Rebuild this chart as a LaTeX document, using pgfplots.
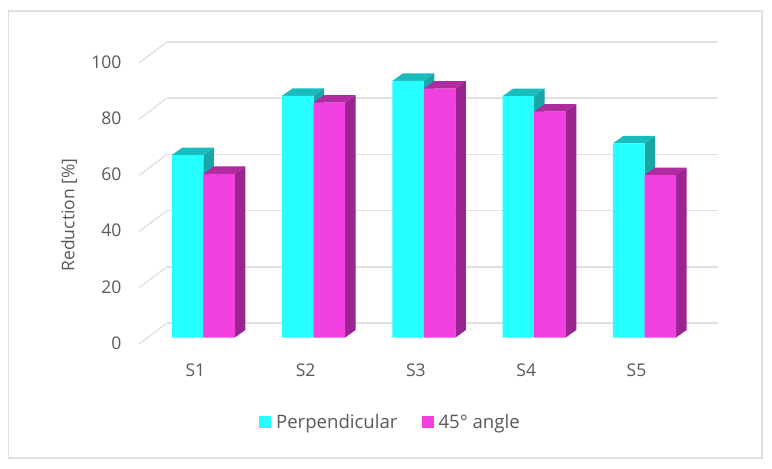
\documentclass[border=0pt]{standalone}
\usepackage{pgfplots}
\pgfplotsset{compat=1.18}
\usepackage{fontspec}
\setmainfont{Open Sans}
\definecolor{cy}{HTML}{26FFFF}
\definecolor{cytop}{HTML}{1ABDBD}
\definecolor{cyside}{HTML}{18A6A6}
\definecolor{mg}{HTML}{F23FDF}
\definecolor{mgtop}{HTML}{B02AA0}
\definecolor{mgside}{HTML}{9A2590}
\definecolor{gl}{HTML}{E0E0E0}
\definecolor{txt}{HTML}{595959}
\begin{document}
\begin{tikzpicture}
\path[use as bounding box] (0,0) rectangle (772pt,469pt);
\fill[white] (0,0) rectangle (772pt,469pt);
\draw[color=gl,line width=1.5pt] (8.5pt,11pt) rectangle (762pt,458pt);
\begin{axis}[
  at={(139pt,125pt)}, anchor=south west,
  scale only axis, width=579pt, height=302pt,
  xmin=-0.583, xmax=4.666, ymin=-2.31, ymax=105.16,
  clip=false,
  axis line style={draw=none},
  major tick length=0pt,
  tick style={draw=none},
  xtick={0,1,2,3,4},
  xticklabels={S1,S2,S3,S4,S5},
  ytick={0,20,40,60,80,100},
  /pgf/number format/assume math mode=true,
  tick label style={font=\fontsize{17.5}{20}\selectfont, text=txt},
  yticklabel style={anchor=east, yshift=-5.5pt, xshift=-14pt},
  xticklabel style={anchor=center, xshift=-8pt, yshift=-26pt},
  ylabel={Reduction [\%]},
  every axis y label/.style={at={(rel axis cs:-0.1209,0.4272)},rotate=90,anchor=center,font=\fontsize{17.5}{20}\selectfont,text=txt},
  unbounded coords=jump,
  legend columns=2,
  legend style={at={(rel axis cs:0.207,-0.258)},anchor=west,draw=none,fill=none,inner sep=0pt,
    font=\fontsize{18.6}{20}\selectfont,text=txt,
    /tikz/every even column/.append style={column sep=22pt}},
  legend image code/.code={\path[#1] (0pt,-6pt) rectangle (12pt,6pt);\path (15pt,0pt);},
]
% gridlines on the side wall and the back wall
\addplot[color=gl,line width=1.3pt,forget plot] coordinates {
 (-0.583,-2.31) (-0.329,5.16) (nan,nan)
 (-0.583,17.69) (-0.329,25.16) (nan,nan)
 (-0.583,37.69) (-0.329,45.16) (nan,nan)
 (-0.583,57.69) (-0.329,65.16) (nan,nan)
 (-0.583,77.69) (-0.329,85.16) (nan,nan)
 (-0.583,97.69) (-0.329,105.16)
};
\addplot[color=gl,line width=1.7pt,forget plot] coordinates {
 (-0.329,5.16) (4.666,5.16) (nan,nan)
 (-0.329,25.16) (4.666,25.16) (nan,nan)
 (-0.329,45.16) (4.666,45.16) (nan,nan)
 (-0.329,65.16) (4.666,65.16) (nan,nan)
 (-0.329,85.16) (4.666,85.16) (nan,nan)
 (-0.329,105.16) (4.666,105.16)
};
% Perpendicular: tops and sides
\addplot[fill=cytop,draw=none,forget plot] coordinates {(-0.286,64.9)(-0.191,67.57)(0.095,67.57)(0,64.9)} --cycle;
\addplot[fill=cytop,draw=none,forget plot] coordinates {(0.714,86.0)(0.809,88.67)(1.095,88.67)(1,86.0)} --cycle;
\addplot[fill=cytop,draw=none,forget plot] coordinates {(1.714,91.3)(1.809,93.97)(2.095,93.97)(2,91.3)} --cycle;
\addplot[fill=cytop,draw=none,forget plot] coordinates {(2.714,85.9)(2.809,88.57)(3.095,88.57)(3,85.9)} --cycle;
\addplot[fill=cytop,draw=none,forget plot] coordinates {(3.714,69.1)(3.809,71.77)(4.095,71.77)(4,69.1)} --cycle;
\addplot[fill=cyside,draw=none,forget plot] coordinates {(0,0)(0.095,2.67)(0.095,67.57)(0,64.9)} --cycle;
\addplot[fill=cyside,draw=none,forget plot] coordinates {(1,0)(1.095,2.67)(1.095,88.67)(1,86.0)} --cycle;
\addplot[fill=cyside,draw=none,forget plot] coordinates {(2,0)(2.095,2.67)(2.095,93.97)(2,91.3)} --cycle;
\addplot[fill=cyside,draw=none,forget plot] coordinates {(3,0)(3.095,2.67)(3.095,88.57)(3,85.9)} --cycle;
\addplot[fill=cyside,draw=none,forget plot] coordinates {(4,0)(4.095,2.67)(4.095,71.77)(4,69.1)} --cycle;
% Perpendicular: fronts
\addplot[ybar,bar width=0.286,bar shift=-0.143,fill=cy,draw=none] coordinates {(0,64.9)(1,86.0)(2,91.3)(3,85.9)(4,69.1)};
\addlegendentry{Perpendicular}
% 45 degree: tops and sides
\addplot[fill=mgtop,draw=none,forget plot] coordinates {(0,58.2)(0.095,60.87)(0.381,60.87)(0.286,58.2)} --cycle;
\addplot[fill=mgtop,draw=none,forget plot] coordinates {(1,83.6)(1.095,86.27)(1.381,86.27)(1.286,83.6)} --cycle;
\addplot[fill=mgtop,draw=none,forget plot] coordinates {(2,88.6)(2.095,91.27)(2.381,91.27)(2.286,88.6)} --cycle;
\addplot[fill=mgtop,draw=none,forget plot] coordinates {(3,80.4)(3.095,83.07)(3.381,83.07)(3.286,80.4)} --cycle;
\addplot[fill=mgtop,draw=none,forget plot] coordinates {(4,57.8)(4.095,60.47)(4.381,60.47)(4.286,57.8)} --cycle;
\addplot[fill=mgside,draw=none,forget plot] coordinates {(0.286,0)(0.381,2.67)(0.381,60.87)(0.286,58.2)} --cycle;
\addplot[fill=mgside,draw=none,forget plot] coordinates {(1.286,0)(1.381,2.67)(1.381,86.27)(1.286,83.6)} --cycle;
\addplot[fill=mgside,draw=none,forget plot] coordinates {(2.286,0)(2.381,2.67)(2.381,91.27)(2.286,88.6)} --cycle;
\addplot[fill=mgside,draw=none,forget plot] coordinates {(3.286,0)(3.381,2.67)(3.381,83.07)(3.286,80.4)} --cycle;
\addplot[fill=mgside,draw=none,forget plot] coordinates {(4.286,0)(4.381,2.67)(4.381,60.47)(4.286,57.8)} --cycle;
% 45 degree: fronts
\addplot[ybar,bar width=0.286,bar shift=0.143,fill=mg,draw=none] coordinates {(0,58.2)(1,83.6)(2,88.6)(3,80.4)(4,57.8)};
\addlegendentry{45° angle}
\end{axis}
\end{tikzpicture}
\end{document}
